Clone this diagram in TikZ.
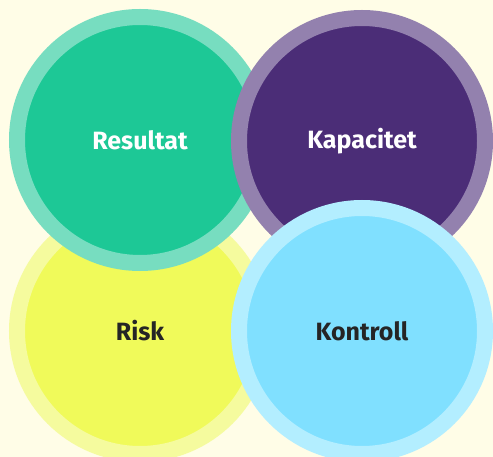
\documentclass[tikz,border=0pt]{standalone}
\usepackage{fontspec}
\setmainfont{Fira Sans}
\usepackage{xcolor}
\usepackage{tikz}

\definecolor{bgcream}{HTML}{FFFDE7}
\definecolor{resfill}{HTML}{1DC896}
\definecolor{resring}{HTML}{77DDC0}
\definecolor{kapfill}{HTML}{4B2D77}
\definecolor{kapring}{HTML}{9381AE}
\definecolor{riskfill}{HTML}{F0FA5A}
\definecolor{riskring}{HTML}{F5FB9E}
\definecolor{konfill}{HTML}{80E0FF}
\definecolor{konring}{HTML}{B3EEFF}
\definecolor{darktext}{HTML}{252525}

\tikzset{
	bubble/.style={circle, line width=16pt, minimum size=246pt, inner sep=0pt,
		font=\fontsize{25}{29}\selectfont\bfseries}
}

\begin{document}
\begin{tikzpicture}[x=1pt, y=-1pt]
	\fill[bgcream] (0,0) rectangle (493,457);
	\useasboundingbox (0,0) rectangle (493,457);
	\begin{scope}
	\clip (0,0) rectangle (493,457);
	\node[bubble, fill=riskfill, draw=riskring, text=darktext] (risk) at (140,331) {Risk};
	\node[bubble, fill=resfill, draw=resring, text=white] (resultat) at (140,140) {Resultat};
	\node[bubble, fill=kapfill, draw=kapring, text=white] (kapacitet) at (362,141) {Kapacitet};
	\node[bubble, fill=konfill, draw=konring, text=darktext] (kontroll) at (362,331) {Kontroll};
	\end{scope}
\end{tikzpicture}
\end{document}
